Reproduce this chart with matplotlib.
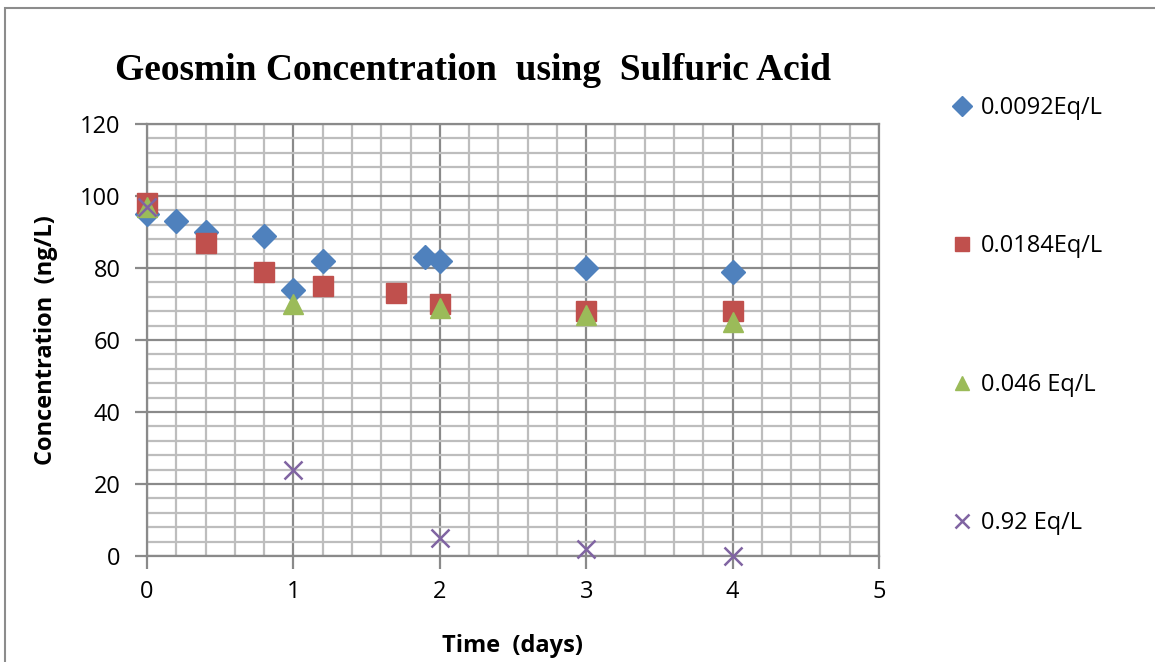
import matplotlib
matplotlib.use("Agg")
import matplotlib.pyplot as plt
from matplotlib.patches import Rectangle
from matplotlib.ticker import MultipleLocator

# geosmin concentration (ng/L) vs time (days) per acid dose
t_0092 = [0, 0.2, 0.4, 0.8, 1, 1.2, 1.9, 2, 3, 4]
c_0092 = [95, 93, 90, 89, 74, 82, 83, 82, 80, 79]
t_0184 = [0, 0.4, 0.8, 1.2, 1.7, 2, 3, 4]
c_0184 = [98, 87, 79, 75, 73, 70, 68, 68]
t_046 = [0, 1, 2, 3, 4]
c_046 = [97, 70, 69, 67, 65]
t_092 = [0, 1, 2, 3, 4]
c_092 = [97, 24, 5, 2, 0]

FONT = ["Open Sans", "DejaVu Sans"]
plt.rcParams["font.family"] = FONT

fig = plt.figure(figsize=(11.55, 6.62), dpi=100)
ax = fig.add_axes([147 / 1155, 1 - 556 / 662, 732 / 1155, 432 / 662])

# outer chart border
fig.patches.append(Rectangle((5 / 1155, -0.1), 1.2, 1 - 8 / 662 + 0.1, transform=fig.transFigure,
                             fill=False, ec="#8c8c8c", lw=1.5))

ax.set_xlim(0, 5)
ax.set_ylim(0, 120)
ax.xaxis.set_major_locator(MultipleLocator(1))
ax.xaxis.set_minor_locator(MultipleLocator(0.2))
ax.yaxis.set_major_locator(MultipleLocator(20))
ax.yaxis.set_minor_locator(MultipleLocator(4))
ax.grid(which="minor", color="#bdbdbd", lw=1.6, zorder=0)
ax.grid(which="major", color="#8a8a8a", lw=1.6, zorder=0)
ax.set_axisbelow(True)
for s in ax.spines.values():
    s.set_color("#8a8a8a")
    s.set_linewidth(1.6)
ax.tick_params(which="major", length=9, width=1.6, color="#8a8a8a", labelsize=17)
ax.tick_params(axis="y", pad=10)
ax.tick_params(axis="x", pad=8)
ax.tick_params(which="minor", length=0)

kw = dict(ls="none", zorder=3, clip_on=False)
ax.plot(t_0092, c_0092, marker="D", ms=12, color="#4F81BD", label="0.0092Eq/L", **kw)
ax.plot(t_0184, c_0184, marker="s", ms=14.5, color="#C0504D", label="0.0184Eq/L", **kw)
ax.plot(t_046, c_046, marker="^", ms=15, color="#9BBB59", label="0.046 Eq/L", **kw)
ax.plot(t_092, c_092, marker="x", ms=13, mew=1.8, color="#8064A2", label="0.92 Eq/L", **kw)

ax.set_xlabel("Time  (days)", fontsize=17, fontweight="bold", labelpad=22)
ax.set_ylabel("Concentration  (ng/L)", fontsize=17, fontweight="bold", labelpad=16)

fig.text(473 / 1155, 1 - 70 / 662, "Geosmin Concentration  using  Sulfuric Acid",
         family="Liberation Serif", fontsize=27, fontweight="bold", ha="center", va="center")

leg = ax.legend(loc="upper left", bbox_to_anchor=(942 / 1155, 1 - 84 / 662),
                bbox_transform=fig.transFigure, frameon=False, fontsize=17,
                labelspacing=4.85, handlelength=0.7, handletextpad=0.45, borderpad=0)
for h in leg.legend_handles:
    h.set_markersize(10)

fig.savefig("out.png", dpi=100)
